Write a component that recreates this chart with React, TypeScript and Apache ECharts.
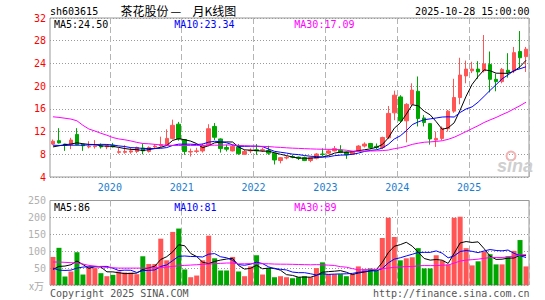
import React, { useEffect, useRef } from "react";
import * as echarts from "echarts";

// ---- categories (monthly, Mar 2019 .. Oct 2025) ----
const months: string[] = [
  "2019-03", "2019-04", "2019-05", "2019-06", "2019-07", "2019-08", "2019-09", "2019-10", "2019-11", "2019-12",
  "2020-01", "2020-02", "2020-03", "2020-04", "2020-05", "2020-06", "2020-07", "2020-08", "2020-09", "2020-10", "2020-11", "2020-12",
  "2021-01", "2021-02", "2021-03", "2021-04", "2021-05", "2021-06", "2021-07", "2021-08", "2021-09", "2021-10", "2021-11", "2021-12",
  "2022-01", "2022-02", "2022-03", "2022-04", "2022-05", "2022-06", "2022-07", "2022-08", "2022-09", "2022-10", "2022-11", "2022-12",
  "2023-01", "2023-02", "2023-03", "2023-04", "2023-05", "2023-06", "2023-07", "2023-08", "2023-09", "2023-10", "2023-11", "2023-12",
  "2024-01", "2024-02", "2024-03", "2024-04", "2024-05", "2024-06", "2024-07", "2024-08", "2024-09", "2024-10", "2024-11", "2024-12",
  "2025-01", "2025-02", "2025-03", "2025-04", "2025-05", "2025-06", "2025-07", "2025-08", "2025-09", "2025-10",
];

// ---- OHLC ----
const opens: number[] = [
  9.8, 10.4, 9.8, 9.7, 11.5, 9.75, 9.3, 9.35, 9.5, 9.3,
  9.6, 8.35, 8.35, 8.4, 8.5, 9.1, 8.5, 9.3, 9.5, 9.6, 10.8, 13.3,
  10.6, 8.4, 8.5, 8.6, 9.6, 12.9, 10.7, 9.2, 8.6, 9.3, 8.0, 8.6,
  8.8, 8.7, 8.65, 8.2, 6.9, 7.35, 7.6, 7.5, 7.4, 6.9, 7.3, 8.05,
  8.2, 8.6, 8.75, 8.4, 8.0, 8.6, 9.45, 9.9, 9.4, 9.2, 10.9, 15.3,
  18.1, 13.9, 16.8, 19.1, 14.4, 13.4, 10.5, 10.8, 12.5, 15.6, 18.0, 21.8,
  22.7, 23.0, 22.7, 23.8, 21.2, 20.8, 22.8, 22.7, 26.1, 25.2,
];
const closes: number[] = [
  10.3, 10.0, 9.6, 10.5, 9.7, 9.5, 9.4, 9.5, 9.3, 9.5,
  9.3, 8.45, 8.5, 8.6, 9.2, 8.6, 9.2, 9.45, 9.7, 10.8, 13.1, 10.7,
  8.5, 8.5, 8.6, 9.5, 12.5, 11.0, 9.0, 8.9, 9.4, 8.1, 8.5, 8.7,
  8.6, 8.8, 8.2, 7.0, 7.4, 7.45, 7.5, 7.3, 6.9, 7.4, 8.05, 7.95,
  8.6, 9.0, 8.35, 7.9, 8.45, 9.45, 9.8, 9.2, 9.2, 10.95, 15.2, 18.4,
  13.9, 16.8, 19.3, 14.3, 13.6, 10.7, 10.8, 12.6, 15.6, 18.0, 21.95, 23.0,
  23.0, 22.5, 23.9, 21.2, 20.8, 22.95, 22.4, 25.9, 25.0, 26.5,
];
const lows: number[] = [
  9.6, 9.9, 8.6, 8.9, 9.6, 8.6, 9.05, 9.0, 9.0, 8.9,
  9.2, 8.1, 8.1, 8.1, 8.2, 8.0, 8.3, 9.0, 9.3, 9.5, 10.6, 10.4,
  7.9, 7.6, 8.2, 8.3, 9.4, 10.5, 8.3, 8.5, 8.5, 7.9, 7.9, 8.2,
  7.9, 8.4, 7.9, 6.2, 6.4, 7.1, 7.3, 7.0, 6.8, 6.6, 7.1, 7.7,
  8.0, 8.5, 8.2, 7.2, 7.9, 8.5, 9.2, 8.9, 8.9, 8.9, 10.7, 14.0,
  13.7, 10.1, 16.5, 12.9, 12.9, 9.7, 9.3, 10.5, 12.0, 15.3, 16.8, 20.5,
  22.3, 21.3, 22.4, 18.9, 19.1, 20.5, 21.5, 22.3, 23.1, 22.5,
];
const highs: number[] = [
  10.6, 12.6, 9.85, 10.9, 12.6, 9.8, 10.3, 10.5, 9.9, 9.7,
  10.0, 9.1, 9.6, 9.1, 9.35, 9.9, 9.4, 9.8, 11.1, 12.4, 14.1, 13.7,
  10.6, 9.0, 9.15, 9.9, 13.3, 13.5, 10.8, 9.7, 9.7, 9.8, 8.8, 9.05,
  9.8, 9.2, 9.5, 8.3, 7.5, 7.7, 7.9, 7.6, 7.6, 7.6, 8.2, 9.05,
  8.9, 9.45, 9.6, 8.5, 8.6, 9.6, 10.1, 10.0, 9.9, 11.1, 16.5, 19.2,
  18.4, 17.0, 20.5, 21.7, 14.9, 13.5, 12.0, 12.9, 15.8, 21.3, 25.0, 24.5,
  24.3, 24.4, 29.0, 26.1, 22.2, 23.2, 25.8, 26.9, 29.7, 26.9,
];

// ---- volume (万手) ----
const volumes: number[] = [
  83, 110, 25, 40, 97, 31, 53, 50, 35, 26,
  30, 40, 37, 37, 32, 85, 62, 62, 137, 73, 157, 167,
  46, 23, 28, 73, 146, 79, 43, 43, 83, 40, 26, 55,
  88, 31, 50, 23, 26, 23, 20, 23, 26, 23, 50, 67,
  32, 32, 32, 26, 32, 55, 47, 49, 44, 139, 199, 142,
  73, 79, 82, 109, 49, 49, 88, 72, 61, 199, 202, 109,
  58, 70, 99, 91, 61, 61, 85, 101, 133, 55,
];

// ---- moving-average lead-in values (window not yet full) ----
const priceMa5Lead: number[] = [9.3, 9.5, 9.7, 9.8];
const priceMa10Lead: number[] = [9.6, 9.55, 9.55, 9.6, 9.6, 9.6, 9.65, 9.7, 9.75];
const priceMa30Lead: number[] = [
  14.6, 14.5, 14.35, 14.2, 13.9, 13.1, 12.45, 12.1, 11.7, 11.36,
  10.95, 10.7, 10.55, 10.35, 10.1, 9.9, 9.85, 9.75, 9.65, 9.6,
  9.55, 9.55, 9.55, 9.55, 9.55, 9.55, 9.6, 9.6, 9.6,
];
const volMa5Lead: number[] = [46, 55, 56, 60];
const volMa10Lead: number[] = [50, 44, 43, 44, 50, 53, 54, 54, 55];
const volMa30Lead: number[] = [
  68, 68, 67, 66, 65, 62, 58, 56, 54, 52,
  51, 50, 50, 50, 50, 50, 50, 51, 52, 53,
  55, 57, 58, 59, 60, 61, 62, 63, 64,
];

// ---- legend values shown on the chart ----
const priceLegend = { ma5: "24.50", ma10: "23.34", ma30: "17.09" };
const volLegend = { ma5: "86", ma10: "81", ma30: "89" };

const UP = "#ff5555";
const DOWN = "#00a600";
const MONO = '"DejaVu Sans Mono", monospace';

function sma(src: number[], n: number, lead: number[]): number[] {
  return src.map((_, i) => {
    if (i < n - 1) return lead[i];
    let s = 0;
    for (let k = i - n + 1; k <= i; k++) s += src[k];
    return +(s / n).toFixed(3);
  });
}

export default function App() {
  const ref = useRef<HTMLDivElement>(null);
  useEffect(() => {
    if (!ref.current) return;
    const chart = echarts.init(ref.current, undefined, { renderer: "svg" });
    const isJan = (_i: number, v: string) => typeof v === "string" && v.endsWith("-01");
    const candleData = months.map((_, i) => [opens[i], closes[i], lows[i], highs[i]]);
    const volData = volumes.map((v, i) => ({
      value: v,
      itemStyle: { color: closes[i] >= opens[i] ? UP : DOWN },
    }));
    const lineS = (name: string, data: number[], color: string, xi: number, yi: number) => ({
      name,
      type: "line",
      data,
      xAxisIndex: xi,
      yAxisIndex: yi,
      symbol: "none",
      smooth: false,
      lineStyle: { color, width: 1 },
      z: 5,
      silent: true,
    });
    const txt = (text: string, x: number, y: number, fill: string, align = "left", font = `10px ${MONO}`) => ({
      type: "text",
      x,
      y,
      silent: true,
      z: 100,
      style: { text, fill, font, align, verticalAlign: "middle", textAlign: align, textVerticalAlign: "middle" },
    });
    const xAxisBase = (gi: number, showLabel: boolean) => ({
      type: "category",
      gridIndex: gi,
      data: months,
      boundaryGap: true,
      axisLine: { show: false },
      axisTick: { show: false },
      axisLabel: showLabel
        ? {
            show: true,
            interval: isJan,
            formatter: (v: string) => v.slice(0, 4),
            color: "#1a7ed0",
            fontFamily: MONO,
            fontSize: 10,
            margin: 5,
            padding: [0, 6, 0, 0],
          }
        : { show: false },
      splitLine: {
        show: true,
        interval: isJan,
        lineStyle: { color: "#b4b4b4", type: [6, 3], width: 1 },
      },
    });
    chart.setOption({
      animation: false,
      backgroundColor: "#ffffff",
      grid: [
        { left: 50, right: 16, top: 18, height: 159, show: true, borderColor: "#999", borderWidth: 1, backgroundColor: "transparent" },
        { left: 50, right: 16, top: 200.5, height: 84.5, show: true, borderColor: "#999", borderWidth: 1, backgroundColor: "transparent" },
      ],
      xAxis: [xAxisBase(0, true), xAxisBase(1, false)],
      yAxis: [
        {
          type: "value",
          gridIndex: 0,
          min: 4,
          max: 32,
          interval: 4,
          axisLine: { show: false },
          axisTick: { show: false },
          axisLabel: { color: "#ff0000", fontFamily: MONO, fontSize: 10, margin: 4 },
          splitLine: { show: true, lineStyle: { color: "#9a9a9a", type: [1, 2], width: 1 } },
        },
        {
          type: "value",
          gridIndex: 1,
          min: 0,
          max: 250,
          interval: 50,
          axisLine: { show: false },
          axisTick: { show: false },
          axisLabel: {
            color: "#b0b0b0",
            fontFamily: MONO,
            fontSize: 10,
            margin: 4,
            formatter: (v: number) => (v === 0 ? "" : String(v)),
          },
          splitLine: { show: true, lineStyle: { color: "#9a9a9a", type: [1, 2], width: 1 } },
        },
      ],
      series: [
        {
          name: "K",
          type: "candlestick",
          xAxisIndex: 0,
          yAxisIndex: 0,
          data: candleData,
          barWidth: 4,
          itemStyle: { color: UP, color0: DOWN, borderColor: UP, borderColor0: DOWN, borderWidth: 1 },
          z: 3,
          silent: true,
        },
        lineS("MA5", sma(closes, 5, priceMa5Lead), "#000000", 0, 0),
        lineS("MA10", sma(closes, 10, priceMa10Lead), "#0000ff", 0, 0),
        lineS("MA30", sma(closes, 30, priceMa30Lead), "#ff00ff", 0, 0),
        {
          name: "VOL",
          type: "bar",
          xAxisIndex: 1,
          yAxisIndex: 1,
          data: volData,
          barWidth: 5,
          z: 3,
          silent: true,
        },
        lineS("VMA5", sma(volumes, 5, volMa5Lead), "#000000", 1, 1),
        lineS("VMA10", sma(volumes, 10, volMa10Lead), "#0000ff", 1, 1),
        lineS("VMA30", sma(volumes, 30, volMa30Lead), "#ff00ff", 1, 1),
      ],
      graphic: [
        txt("sh603615", 50, 11.5, "#000"),
        txt("茶花股份", 120.5, 10.5, "#000", "left", '12px "Noto Sans CJK SC"'),
        txt("—", 170.5, 10.5, "#000", "left", '12px "Noto Sans CJK SC"'),
        txt("月K线图", 192.5, 10.5, "#000", "left", '12px "Noto Sans CJK SC"'),
        txt("2025-10-28 15:00:00", 529.5, 11.2, "#000", "right"),
        txt(`MA5:${priceLegend.ma5}`, 54, 24, "#000"),
        txt(`MA10:${priceLegend.ma10}`, 174.3, 24, "#0000ff"),
        txt(`MA30:${priceLegend.ma30}`, 294.3, 24, "#ff00ff"),
        txt(`MA5:${volLegend.ma5}`, 54, 207, "#000"),
        txt(`MA10:${volLegend.ma10}`, 174.3, 207, "#0000ff"),
        txt(`MA30:${volLegend.ma30}`, 294.3, 207, "#ff00ff"),
        txt("x万", 29, 285, "#aaaaaa", "left", '10px "Noto Sans CJK SC"'),
        txt("Copyright 2025 SINA.COM", 50, 293, "#555"),
        txt("http://finance.sina.com.cn", 529.5, 293.3, "#555", "right"),
        {
          type: "circle",
          silent: true,
          z: 1,
          shape: { cx: 511, cy: 156, r: 4.5 },
          style: { fill: "none", stroke: "#f1b4b4", lineWidth: 2 },
        },
        txt("sina", 497, 165.5, "#cfcfcf", "left", 'italic bold 18px "Liberation Sans"'),
      ],
    });
    return () => chart.dispose();
  }, []);
  return (
    <div
      ref={ref}
      style={{ position: "fixed", left: 0, top: 0, width: 545, height: 300, background: "#fff" }}
    />
  );
}
